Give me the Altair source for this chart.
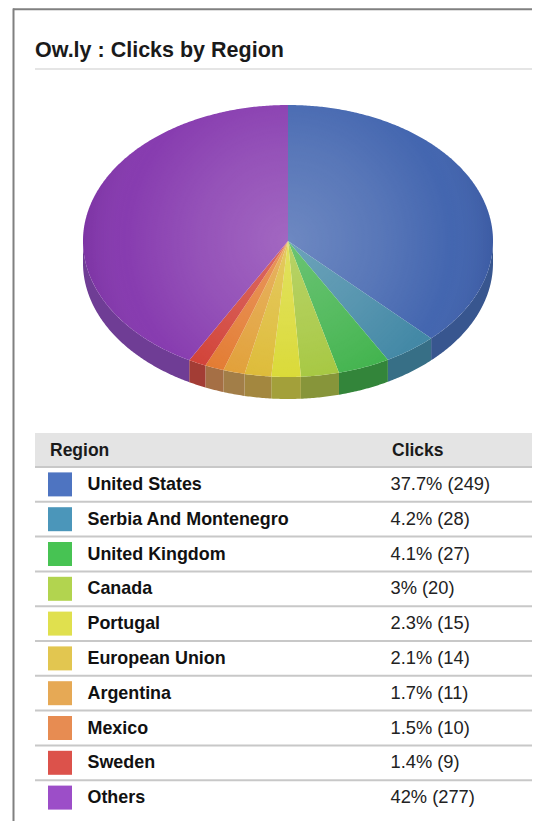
import math
import altair as alt
import pandas as pd

TITLE = "Ow.ly : Clicks by Region"
HEADERS = ["Region", "Clicks"]
regions = ["United States", "Serbia And Montenegro", "United Kingdom", "Canada", "Portugal",
           "European Union", "Argentina", "Mexico", "Sweden", "Others"]
shares = [37.7, 4.2, 4.1, 3, 2.3, 2.1, 1.7, 1.5, 1.4, 42]
clicks = [249, 28, 27, 20, 15, 14, 11, 10, 9, 277]
swatch_colors = ["#4e74c1", "#4b96ba", "#47c353", "#b2d44f", "#e0e04e",
                 "#e2c650", "#e6a955", "#e78c52", "#dc524b", "#9c4ec8"]
slice_colors = ["#4063ae", "#3f86a4", "#3cb148", "#a2c538", "#d8d82c",
                "#dcb82e", "#e09c30", "#e2762a", "#d03c32", "#8538ae"]
wall_colors = ["#38568f", "#376f86", "#33853a", "#87953a", "#a3a03a",
               "#a3873f", "#a27e48", "#a56f45", "#a33d35", "#6f3d95"]

FONT = "Liberation Sans"
RATIO = 136 / 205
DEPTH = 22 / 205


def arc(a0, a1, offset=0.0):
    n = max(2, int(abs(a1 - a0) * 2) + 1)
    angs = [a0 + (a1 - a0) * i / (n - 1) for i in range(n)]
    return [[math.sin(math.radians(a)), -math.cos(math.radians(a)) * RATIO + offset] for a in angs]


def feature(ring, **props):
    return {"type": "Feature", "properties": props,
            "geometry": {"type": "Polygon", "coordinates": [ring + [ring[0]]]}}


top_feats, wall_feats = [], []
edges = [0.0]
for s in shares:
    edges.append(edges[-1] + s * 3.6)
edges[-1] = 360.0
for i, r in enumerate(regions):
    a0, a1 = edges[i], edges[i + 1]
    top_feats.append(feature([[0.0, 0.0]] + arc(a0, a1), fill=slice_colors[i]))
    w0, w1 = max(a0, 90.0), min(a1, 270.0)
    if w1 > w0:
        wall_feats.append(feature(arc(w0, w1) + arc(w1, w0, DEPTH), fill=wall_colors[i]))

proj = alt.Projection(type="identity", scale=205, translate=[280, 233])

walls = alt.Chart(alt.Data(values=wall_feats)).mark_geoshape(strokeWidth=0).encode(
    fill=alt.Fill("properties.fill:N", scale=None)).project(**proj.to_dict())
tops = alt.Chart(alt.Data(values=top_feats)).mark_geoshape(strokeWidth=0).encode(
    fill=alt.Fill("properties.fill:N", scale=None)).project(**proj.to_dict())
shade = alt.Chart(alt.Data(values=[feature(arc(0, 360))])).mark_geoshape(
    strokeWidth=0,
    fill=alt.RadialGradient(
        gradient="radial", x1=0.5, y1=0.5, x2=0.5, y2=0.5, r1=0, r2=0.5,
        stops=[alt.GradientStop(offset=0, color="rgba(255,255,255,0.24)"),
               alt.GradientStop(offset=0.45, color="rgba(255,255,255,0.13)"),
               alt.GradientStop(offset=0.8, color="rgba(255,255,255,0.02)"),
               alt.GradientStop(offset=1, color="rgba(20,0,40,0.08)")]),
).project(**proj.to_dict())

df = pd.DataFrame({
    "Region": regions,
    "label": [f"{s:g}% ({c})" for s, c in zip(shares, clicks)],
    "color": swatch_colors,
})
row_y = alt.Scale(domain=regions, range=[459, 807], paddingInner=0, paddingOuter=0)


def Y(**kw):
    return alt.Y("Region:N", sort=None, axis=None, scale=row_y, **kw)


seps = alt.Chart(df).mark_rule(color="#c8c8c8", strokeWidth=2).encode(
    y=Y(bandPosition=0), x=alt.value(27), x2=alt.value(524))
swatches = alt.Chart(df).mark_square(size=576, opacity=1, strokeWidth=0).encode(
    y=Y(), x=alt.value(52), fill=alt.Fill("color:N", scale=None))
names = alt.Chart(df).mark_text(align="left", baseline="middle", font=FONT, fontSize=17.9,
                                fontWeight="bold", color="#111111", dy=0.5).encode(
    y=Y(), x=alt.value(79.5), text="Region:N")
values = alt.Chart(df).mark_text(align="left", baseline="middle", font=FONT, fontSize=18.3,
                                 color="#222222", dy=0.5).encode(
    y=Y(), x=alt.value(382.5), text="label:N")

one = alt.Chart(pd.DataFrame({"a": [0]}))
frame_v = one.mark_rule(color="#808080", strokeWidth=2).encode(
    x=alt.value(5.5), y=alt.value(0.5), y2=alt.value(813))
frame_h = one.mark_rule(color="#808080", strokeWidth=2).encode(
    y=alt.value(1.3), x=alt.value(5), x2=alt.value(524))
title = one.mark_text(align="left", baseline="alphabetic", font=FONT, fontSize=21.5,
                      fontWeight="bold", color="#1a1a1a").encode(
    x=alt.value(27), y=alt.value(49), text=alt.value(TITLE))
title_rule = one.mark_rule(color="#dcdcdc", strokeWidth=1.5).encode(
    y=alt.value(61), x=alt.value(27), x2=alt.value(524))
head_band = one.mark_rect(color="#e4e4e4").encode(
    x=alt.value(27), x2=alt.value(524), y=alt.value(425), y2=alt.value(458))
head_a = one.mark_text(align="left", baseline="middle", font=FONT, fontSize=17.5, fontWeight="bold",
                       color="#1a1a1a").encode(x=alt.value(42), y=alt.value(442.5), text=alt.value(HEADERS[0]))
head_b = one.mark_text(align="left", baseline="middle", font=FONT, fontSize=17.5, fontWeight="bold",
                       color="#1a1a1a").encode(x=alt.value(384), y=alt.value(442.5), text=alt.value(HEADERS[1]))

chart = alt.layer(
    frame_v, frame_h, title, title_rule, walls, tops, shade,
    head_band, head_a, head_b, seps, swatches, names, values,
).properties(width=524, height=813, padding=0, autosize=alt.AutoSizeParams(type="none")
).configure_view(stroke=None)

chart.save("out.html", embed_options={"renderer": "svg", "actions": False})
